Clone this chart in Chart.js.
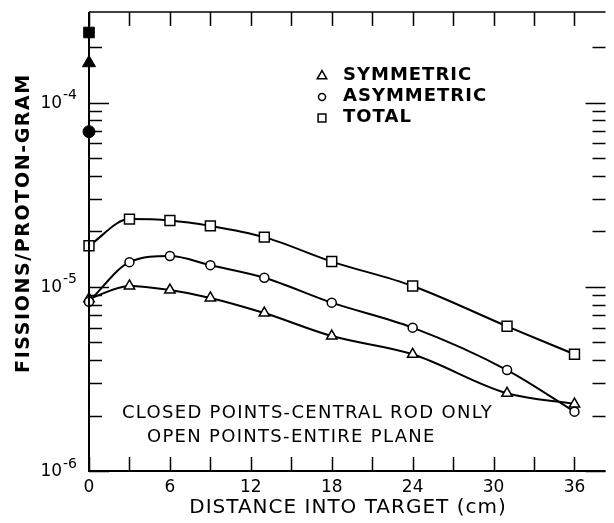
<!DOCTYPE html>
<html>
<head>
<meta charset="utf-8">
<script src="https://cdn.jsdelivr.net/npm/chart.js@4.4.0/dist/chart.umd.min.js"></script>
<style>
    html, body { margin: 0; padding: 0; background: #fff; overflow: hidden; }
    #wrap { width: 614px; height: 523px; }
</style>
</head>
<body>
<div id="wrap"><canvas id="fissionChart"></canvas></div>
<script>
// fissions per proton-gram vs. depth into the target (open points = entire plane)
const distances  = [0, 3, 6, 9, 13, 18, 24, 31, 36];
const symmetric  = [8.6e-6, 1.01e-5, 9.6e-6, 8.7e-6, 7.2e-6, 5.4e-6, 4.3e-6, 2.64e-6, 2.31e-6];
const asymmetric = [8.3e-6, 1.36e-5, 1.47e-5, 1.31e-5, 1.12e-5, 8.2e-6, 6.0e-6, 3.53e-6, 2.1e-6];
const total      = [1.67e-5, 2.33e-5, 2.29e-5, 2.14e-5, 1.86e-5, 1.37e-5, 1.01e-5, 6.1e-6, 4.3e-6];

// central rod only (closed points), measured at the front face
const rodDistance   = [0];
const rodSymmetric  = [1.64e-4];
const rodAsymmetric = [6.95e-5];
const rodTotal      = [2.40e-4];

// axis ticks
const xTickStep   = 3;
const xLabelStep  = 6;
const yDecades    = [1e-6, 1e-5, 1e-4];
const yMinorSteps = [2, 3, 4, 5, 6, 7, 8, 9];

const legendLabels = ['SYMMETRIC', 'ASYMMETRIC', 'TOTAL'];
const legendStyles = ['triangle', 'circle', 'rect'];
const noteLines    = ['CLOSED POINTS-CENTRAL ROD ONLY', 'OPEN POINTS-ENTIRE PLANE'];
const xTitle = 'DISTANCE INTO TARGET (cm)';
const yTitle = 'FISSIONS/PROTON-GRAM';

const FONT = "'DejaVu Sans', sans-serif";

const isDecade = (v) => Math.abs(Math.log10(v) - Math.round(Math.log10(v))) < 1e-6;

const yTickValues = [];
yDecades.forEach(d => {
    yTickValues.push(d);
    yMinorSteps.forEach(m => {
        const v = d * m;
        if (v < 2.5e-4) yTickValues.push(v);
    });
});

const toPoints = (xs, ys) => xs.map((x, i) => ({ x: x, y: ys[i] }));

const openSeries = (label, ys, style, radius) => ({
    label: label,
    data: toPoints(distances, ys),
    showLine: true,
    cubicInterpolationMode: 'monotone',
    borderColor: '#000',
    borderWidth: 2,
    pointStyle: style,
    pointRadius: radius,
    pointBackgroundColor: '#fff',
    pointBorderColor: '#000',
    pointBorderWidth: 1.5,
    clip: false
});

const closedPoint = (label, ys, style, radius) => ({
    label: label,
    data: toPoints(rodDistance, ys),
    showLine: false,
    pointStyle: style,
    pointRadius: radius,
    pointBackgroundColor: '#000',
    pointBorderColor: '#000',
    pointBorderWidth: 1,
    clip: false
});

// inward tick marks, frame, power-of-ten labels, legend and notes
const framePlugin = {
    id: 'frame',
    afterDraw(chart) {
        const c = chart.ctx;
        const a = chart.chartArea;
        const xs = chart.scales.x;
        const ys = chart.scales.y;
        c.save();
        c.strokeStyle = '#000';
        c.lineCap = 'butt';

        // axes lines
        c.lineWidth = 2;
        c.beginPath();
        c.moveTo(a.left, a.top);
        c.lineTo(a.left, a.bottom);
        c.lineTo(a.right, a.bottom);
        c.stroke();
        c.lineWidth = 1.5;
        c.beginPath();
        c.moveTo(a.left, a.top);
        c.lineTo(a.right, a.top);
        c.stroke();

        // x ticks, bottom and top
        c.lineWidth = 1.5;
        xs.ticks.forEach(t => {
            const px = Math.round(xs.getPixelForValue(t.value)) + 0.5;
            c.beginPath();
            c.moveTo(px, a.bottom);
            c.lineTo(px, a.bottom - 14);
            c.moveTo(px, a.top);
            c.lineTo(px, a.top + 14);
            c.stroke();
        });

        // y ticks, left and right
        ys.ticks.forEach(t => {
            const py = Math.round(ys.getPixelForValue(t.value)) + 0.5;
            const len = isDecade(t.value) ? 20 : 13;
            c.beginPath();
            c.moveTo(a.left, py);
            c.lineTo(a.left + len, py);
            c.moveTo(a.right, py);
            c.lineTo(a.right - len, py);
            c.stroke();
        });

        c.fillStyle = '#000';

        // y labels as 10 with a raised exponent
        c.textBaseline = 'middle';
        ys.ticks.forEach(t => {
            if (!t.label) return;
            const [base, exp] = t.label.split('^');
            const py = ys.getPixelForValue(t.value);
            c.textAlign = 'right';
            c.font = '14px ' + FONT;
            c.fillText(exp, 77, py - 7);
            const ew = c.measureText(exp).width;
            c.font = '17px ' + FONT;
            c.fillText(base, 77 - ew - 1, py + 1);
        });

        if ('letterSpacing' in c) c.letterSpacing = '1px';

        // axis titles
        c.textAlign = 'center';
        c.font = '20px ' + FONT;
        c.fillText(xTitle, 348, 508);

        c.save();
        c.translate(24, 223);
        c.rotate(-Math.PI / 2);
        if ('letterSpacing' in c) c.letterSpacing = '1.6px';
        c.font = 'bold 19px ' + FONT;
        c.fillText(yTitle, 0, 0);
        c.restore();

        // legend
        c.textAlign = 'left';
        c.font = 'bold 18px ' + FONT;
        const legendRows = [75, 96, 117];
        const legendSizes = [5.5, 3.5, 5.5];
        legendLabels.forEach((txt, i) => {
            c.fillStyle = '#fff';
            c.lineWidth = 1.5;
            Chart.helpers.drawPoint(c, {
                pointStyle: legendStyles[i], radius: legendSizes[i], rotation: 0, borderWidth: 1.5
            }, 322, legendRows[i] + 1);
            c.fillStyle = '#000';
            c.fillText(txt, 343, legendRows[i]);
        });

        // note on point types
        if ('letterSpacing' in c) c.letterSpacing = '1.3px';
        c.font = '18px ' + FONT;
        c.fillText(noteLines[0], 122, 413);
        c.fillText(noteLines[1], 147, 437);

        c.restore();
    }
};

new Chart(document.getElementById('fissionChart').getContext('2d'), {
    type: 'line',
    data: {
        datasets: [
            openSeries('Total', total, 'rect', 7),
            openSeries('Asymmetric', asymmetric, 'circle', 4.5),
            openSeries('Symmetric', symmetric, 'triangle', 6),
            closedPoint('Total (rod)', rodTotal, 'rect', 7.5),
            closedPoint('Symmetric (rod)', rodSymmetric, 'triangle', 7.5),
            closedPoint('Asymmetric (rod)', rodAsymmetric, 'circle', 6)
        ]
    },
    options: {
        responsive: true,
        maintainAspectRatio: false,
        animation: false,
        layout: { padding: { top: 12, right: 0, bottom: 0, left: 0 } },
        plugins: {
            legend: { display: false },
            tooltip: { enabled: false }
        },
        scales: {
            x: {
                type: 'linear',
                min: 0,
                max: 38.3,
                grid: { display: false, drawTicks: false },
                border: { display: false },
                ticks: {
                    stepSize: xTickStep,
                    includeBounds: false,
                    autoSkip: false,
                    maxRotation: 0,
                    padding: 6,
                    color: '#000',
                    font: { family: FONT, size: 17 },
                    callback: (v) => (v % xLabelStep === 0 ? String(v) : '')
                },
                afterFit: (scale) => { scale.height = 52; }
            },
            y: {
                type: 'logarithmic',
                min: 1e-6,
                max: 3.1e-4,
                grid: { display: false, drawTicks: false },
                border: { display: false },
                afterBuildTicks: (scale) => {
                    scale.ticks = yTickValues.map(v => ({ value: v, major: isDecade(v) }));
                },
                ticks: {
                    display: false,
                    autoSkip: false,
                    callback: (v) => (isDecade(v) ? '10^' + Math.round(Math.log10(v)) : '')
                },
                afterFit: (scale) => { scale.width = 89; }
            }
        }
    },
    plugins: [framePlugin]
});
</script>
</body>
</html>
